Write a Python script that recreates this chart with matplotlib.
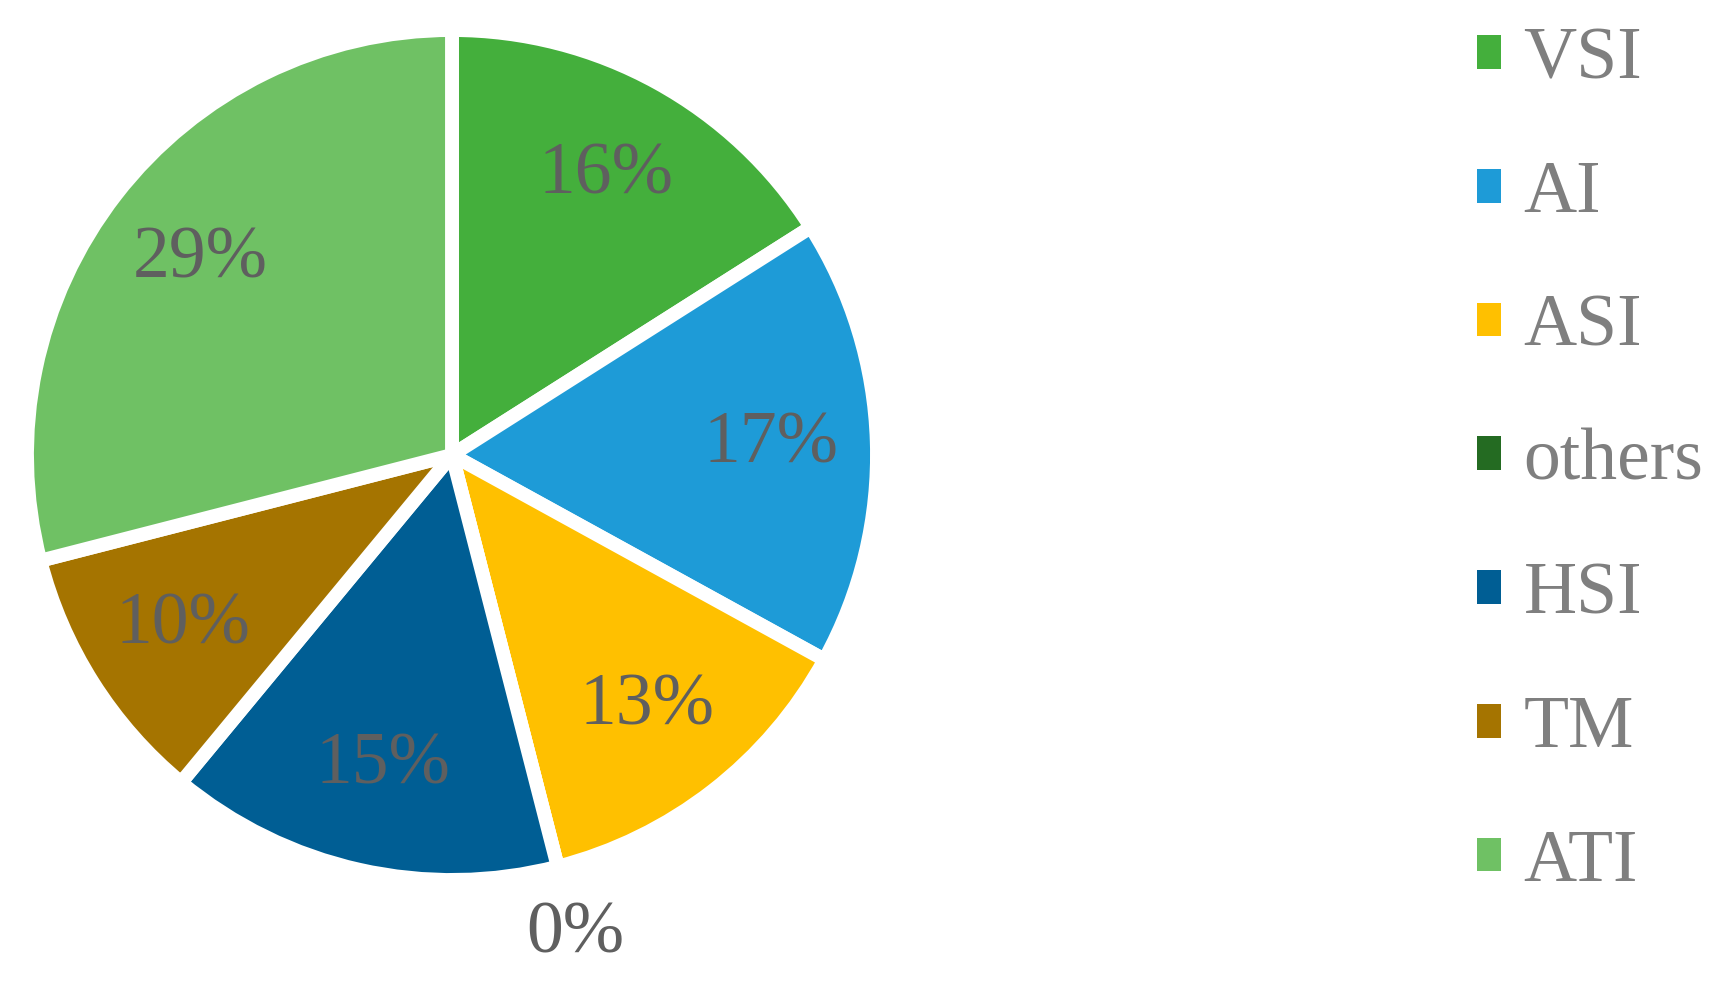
import numpy as np
import matplotlib
matplotlib.use("Agg")
import matplotlib.pyplot as plt
from matplotlib.patches import Patch

categories = ["VSI", "AI", "ASI", "others", "HSI", "TM", "ATI"]
values = [16, 17, 13, 0, 15, 10, 29]
colors = ["#44AF3C", "#1E9BD7", "#FFC000", "#246B22", "#005E94", "#A57400", "#6FC164"]

plt.rcParams["font.family"] = ["Liberation Serif", "DejaVu Serif"]

W, H = 1725, 982
fig = plt.figure(figsize=(W / 100, H / 100), dpi=100)

cx, cy, R = 452, 455, 425
ax = fig.add_axes([(cx - R) / W, (H - cy - R) / H, 2 * R / W, 2 * R / H])

wedges, texts, autotexts = ax.pie(
    values, colors=colors, startangle=90, counterclock=False,
    autopct="%1.0f%%", pctdistance=0.75,
    wedgeprops=dict(edgecolor="white", linewidth=10),
    textprops=dict(color="#5f5f5f", fontsize=53),
)
ax.set_xlim(-1, 1)
ax.set_ylim(-1, 1)
ax.set_aspect("equal")

# zero-valued slice label sits outside the pie
for w, t, v in zip(wedges, autotexts, values):
    if v == 0:
        ang = np.deg2rad((w.theta1 + w.theta2) / 2)
        t.set_position((1.165 * np.cos(ang), 1.165 * np.sin(ang)))

handles = [Patch(facecolor=c, edgecolor="none") for c in colors]
fig.legend(
    handles, categories, loc="center left",
    bbox_to_anchor=(1477 / W, (H - 462) / H),
    frameon=False, fontsize=53, labelcolor="#7f7f7f",
    handlelength=0.33, handleheight=0.33, handletextpad=0.3,
    labelspacing=0.9, borderpad=0, borderaxespad=0,
)

fig.savefig("out.png", dpi=100)
